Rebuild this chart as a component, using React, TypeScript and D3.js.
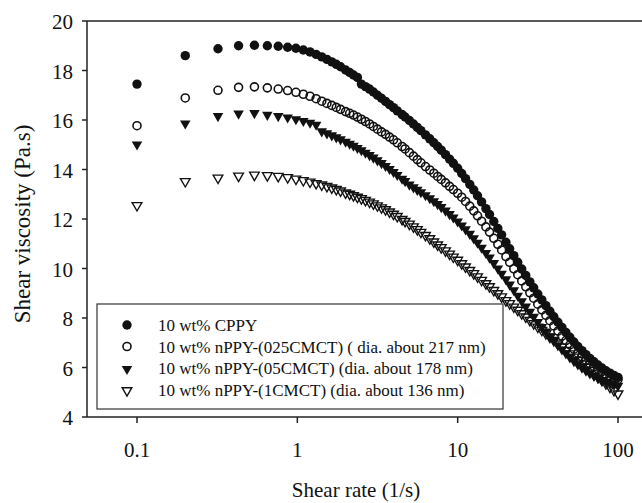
import React from 'react';
import * as d3 from 'd3';

// shear rate (1/s), shared by all four series
const shearRate = [
  0.1, 0.2, 0.32, 0.43, 0.54, 0.65, 0.76, 0.87, 0.98, 1.09, 1.2, 1.31, 1.42, 1.53, 1.64, 1.75, 1.86,
  2, 2.12, 2.24, 2.37, 2.51, 2.66, 2.82, 2.98, 3.16, 3.35,
  3.55, 3.76, 3.98, 4.2, 4.5, 4.7, 5.0, 5.3, 5.6, 5.9,
  6.3, 6.7, 7.1, 7.5, 7.9, 8.4, 8.9, 9.4, 10, 10.6,
  11.2, 11.9, 12.6, 13.3, 14.1, 15, 15.8, 16.8, 17.8, 18.8,
  20, 21.1, 22.4, 23.7, 25.1, 26.6, 28.2, 29.8, 31.6, 33.5,
  35.5, 37.6, 39.8, 42.2, 44.7, 47.3, 50.1, 53.1, 56.2, 59.6,
  63.1, 66.8, 70.8, 75, 79.4, 84.1, 89.1, 94.4, 100,
];

// shear viscosity (Pa.s)
const cppy = [
  17.45, 18.6, 18.88, 19.0, 19.02, 19.0, 18.98, 18.94, 18.9, 18.83, 18.75, 18.65, 18.55, 18.45, 18.35, 18.25, 18.15,
  18.02, 17.92, 17.82, 17.72, 17.45, 17.35, 17.25, 17.13, 17.0, 16.88,
  16.75, 16.62, 16.5, 16.37, 16.22, 16.12, 15.98, 15.84, 15.7, 15.57,
  15.4, 15.24, 15.08, 14.93, 14.78, 14.6, 14.42, 14.25, 14.05, 13.84,
  13.63, 13.4, 13.17, 12.94, 12.69, 12.42, 12.18, 11.9, 11.62, 11.36,
  11.06, 10.8, 10.52, 10.25, 9.98, 9.72, 9.46, 9.22, 8.97, 8.73,
  8.5, 8.27, 8.05, 7.83, 7.62, 7.42, 7.22, 7.03, 6.85, 6.68,
  6.52, 6.37, 6.23, 6.1, 5.98, 5.87, 5.77, 5.68, 5.6,
];

const nppy025 = [
  15.77, 16.89, 17.2, 17.32, 17.34, 17.3, 17.25, 17.19, 17.12, 17.04, 16.96, 16.86, 16.76, 16.67, 16.59, 16.51, 16.43,
  16.34, 16.27, 16.2, 16.12, 16.03, 15.94, 15.84, 15.74, 15.63, 15.52,
  15.42, 15.31, 15.2, 15.08, 14.93, 14.83, 14.68, 14.54, 14.4, 14.27,
  14.12, 13.98, 13.85, 13.72, 13.6, 13.46, 13.32, 13.19, 13.04, 12.88,
  12.71, 12.52, 12.33, 12.13, 11.91, 11.68, 11.47, 11.22, 10.98, 10.75,
  10.48, 10.25, 9.99, 9.75, 9.5, 9.26, 9.02, 8.8, 8.56, 8.33,
  8.11, 7.89, 7.68, 7.47, 7.27, 7.09, 6.91, 6.74, 6.58, 6.43,
  6.29, 6.16, 6.04, 5.93, 5.83, 5.74, 5.66, 5.59, 5.52,
];

const nppy05 = [
  15.05, 15.9, 16.2, 16.3, 16.32, 16.25, 16.2, 16.14, 16.07, 16.0, 15.93, 15.85, 15.58, 15.5, 15.42, 15.34, 15.26,
  15.16, 15.08, 15.0, 14.91, 14.82, 14.72, 14.62, 14.52, 14.41, 14.3,
  14.18, 14.06, 13.94, 13.82, 13.67, 13.57, 13.43, 13.32, 13.22, 13.12,
  13.0, 12.88, 12.76, 12.64, 12.52, 12.38, 12.24, 12.1, 11.94, 11.78,
  11.62, 11.44, 11.26, 11.08, 10.88, 10.67, 10.48, 10.26, 10.04, 9.83,
  9.6, 9.39, 9.16, 8.94, 8.72, 8.5, 8.29, 8.09, 7.88, 7.68,
  7.49, 7.3, 7.12, 6.94, 6.77, 6.61, 6.45, 6.3, 6.16, 6.03,
  5.91, 5.8, 5.7, 5.61, 5.53, 5.46, 5.4, 5.35, 5.3,
];

const nppy1 = [
  12.59, 13.56, 13.7, 13.78, 13.82, 13.8, 13.77, 13.72, 13.66, 13.6, 13.54, 13.48, 13.42, 13.36, 13.3, 13.24, 13.18,
  13.1, 13.05, 12.99, 12.93, 12.87, 12.8, 12.73, 12.66, 12.58, 12.5,
  12.42, 12.33, 12.24, 12.15, 12.03, 11.95, 11.84, 11.73, 11.62, 11.51,
  11.38, 11.25, 11.12, 11.0, 10.89, 10.76, 10.63, 10.51, 10.38, 10.24,
  10.11, 9.97, 9.84, 9.71, 9.57, 9.43, 9.31, 9.16, 9.03, 8.9,
  8.75, 8.63, 8.49, 8.36, 8.22, 8.09, 7.95, 7.82, 7.68, 7.55,
  7.41, 7.27, 7.14, 7.0, 6.87, 6.74, 6.6, 6.47, 6.33, 6.19,
  6.06, 5.93, 5.79, 5.66, 5.52, 5.39, 5.25, 5.12, 4.98,
];

const legendLabels = [
  '10 wt% CPPY',
  '10 wt% nPPY-(025CMCT) ( dia. about 217 nm)',
  '10 wt% nPPY-(05CMCT) (dia. about 178 nm)',
  '10 wt% nPPY-(1CMCT) (dia. about 136 nm)',
];
const xTicks = [0.1, 1, 10, 100];
const xTickLabels = ['0.1', '1', '10', '100'];
const yTicks = [4, 6, 8, 10, 12, 14, 16, 18, 20];

const W = 642;
const H = 503;
const left = 87;
const right = 642;
const top = 21;
const bottom = 417;
const ink = '#111';
const font = "'Liberation Serif', 'Times New Roman', 'DejaVu Serif', serif";

const x = d3.scaleLog().domain([0.1, 100]).range([137, 618]);
const y = d3.scaleLinear().domain([4, 20]).range([bottom, top]);

const tri = d3.symbol().type(d3.symbolTriangle).size(48)() as string;

type Kind = 'dot' | 'ring' | 'tri' | 'otri';

function Marker({ kind, cx, cy }: { kind: Kind; cx: number; cy: number }) {
  if (kind === 'dot') return <circle cx={cx} cy={cy} r={4.7} fill={ink} />;
  if (kind === 'ring')
    return <circle cx={cx} cy={cy} r={4} fill="none" stroke={ink} strokeWidth={1.6} />;
  if (kind === 'tri')
    return <path d={tri} transform={`translate(${cx},${cy + 1}) rotate(180)`} fill={ink} />;
  return (
    <path
      d={tri}
      transform={`translate(${cx},${cy + 1}) rotate(180) scale(0.92)`}
      fill="none"
      stroke={ink}
      strokeWidth={1.5}
    />
  );
}

const series: { kind: Kind; values: number[] }[] = [
  { kind: 'dot', values: cppy },
  { kind: 'ring', values: nppy025 },
  { kind: 'tri', values: nppy05 },
  { kind: 'otri', values: nppy1 },
];

export default function App() {
  return (
    <svg
      width={W}
      height={H}
      style={{ position: 'absolute', left: 0, top: 0, background: '#fff', fontFamily: font }}
    >
      {/* frame */}
      <line x1={left} x2={right} y1={top} y2={top} stroke="#222" strokeWidth={1.5} />
      <line x1={left} x2={right} y1={bottom} y2={bottom} stroke="#222" strokeWidth={1.5} />
      <line x1={left} x2={left} y1={top} y2={bottom} stroke="#222" strokeWidth={1.5} />

      {/* y axis */}
      {yTicks.map((t) => (
        <g key={t}>
          <line x1={left - 5} x2={left} y1={y(t)} y2={y(t)} stroke="#222" strokeWidth={1.5} />
          <text x={73} y={y(t) + 8} textAnchor="end" fontSize={21} fill={ink}>
            {t}
          </text>
        </g>
      ))}
      {/* x axis */}
      {xTicks.map((t, i) => (
        <g key={t}>
          <line x1={x(t)} x2={x(t)} y1={bottom} y2={bottom + 6} stroke="#222" strokeWidth={1.5} />
          <text x={x(t)} y={457} textAnchor="middle" fontSize={21} fill={ink}>
            {xTickLabels[i]}
          </text>
        </g>
      ))}

      <text x={356} y={497} textAnchor="middle" fontSize={21} fill={ink}>
        Shear rate (1/s)
      </text>
      <text
        transform="translate(30,224) rotate(-90)"
        textAnchor="middle"
        fontSize={23}
        fill={ink}
      >
        Shear viscosity (Pa.s)
      </text>

      {/* data */}
      {series.map((s) => (
        <g key={s.kind}>
          {shearRate.map((r, i) =>
            s.values[i] === undefined ? null : (
              <Marker key={i} kind={s.kind} cx={x(r)} cy={y(s.values[i])} />
            )
          )}
        </g>
      ))}

      {/* legend */}
      <rect x={97} y={304} width={406} height={105} fill="none" stroke="#333" strokeWidth={1.2} />
      {series.map((s, i) => (
        <g key={s.kind}>
          <Marker kind={s.kind} cx={127} cy={325 + i * 21.5} />
          <text x={158} y={331 + i * 21.5} fontSize={17} fill={ink}>
            {legendLabels[i]}
          </text>
        </g>
      ))}
    </svg>
  );
}
